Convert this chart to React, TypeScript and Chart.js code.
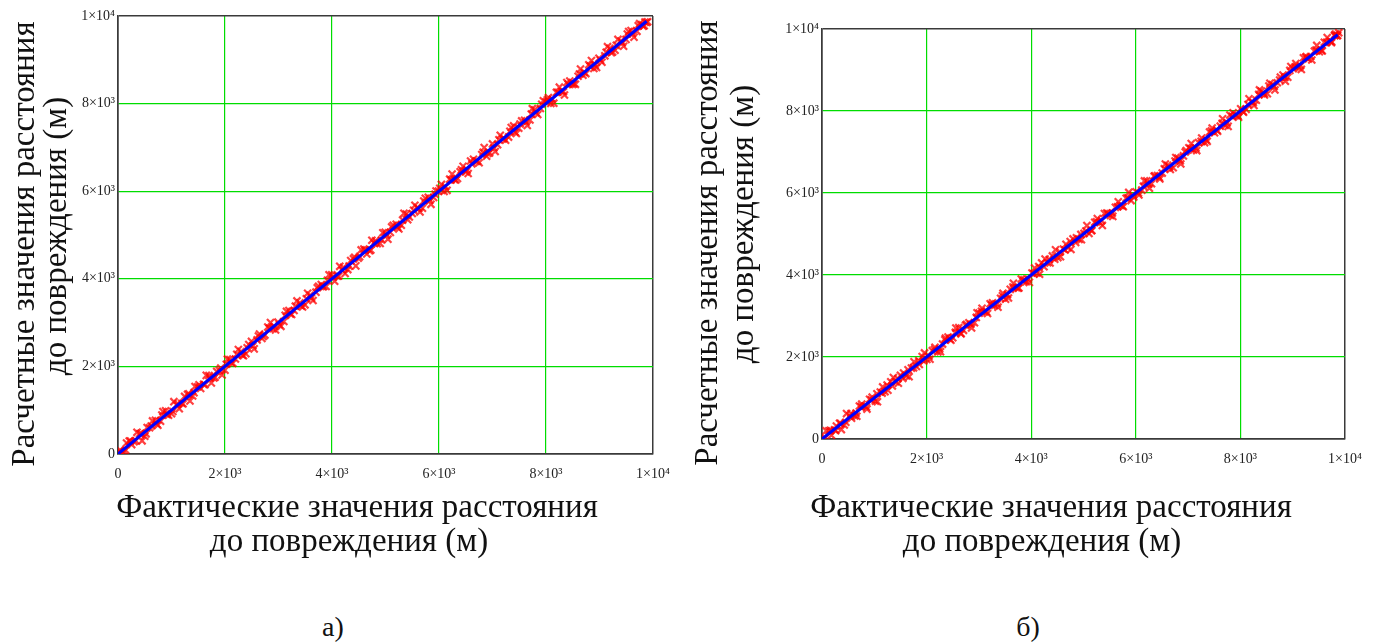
import React, { useEffect, useRef } from 'react';
import { Chart, registerables } from 'chart.js';

Chart.register(...registerables);

const tickValues = [0, 2000, 4000, 6000, 8000, 10000];
const tickLabels = ['0', '2×10³', '4×10³', '6×10³', '8×10³', '1×10⁴'];

const actualA = [
  20, 115, 210, 300, 405, 500, 590, 700, 795, 890,
  1000, 1095, 1190, 1300, 1395, 1490, 1600, 1700, 1790, 1895,
  2000, 2090, 2195, 2300, 2390, 2495, 2600, 2690, 2800, 2895,
  2990, 3100, 3195, 3290, 3400, 3495, 3590, 3700, 3800, 3890,
  3995, 4100, 4190, 4295, 4400, 4490, 4595, 4700, 4790, 4900,
  4995, 5090, 5200, 5295, 5390, 5500, 5595, 5690, 5800, 5900,
  5990, 6095, 6200, 6290, 6395, 6500, 6590, 6695, 6800, 6890,
  7000, 7095, 7190, 7300, 7395, 7490, 7600, 7700, 7790, 7895,
  8000, 8090, 8195, 8300, 8390, 8495, 8600, 8690, 8800, 8895,
  8990, 9100, 9195, 9290, 9400, 9495, 9590, 9700, 9790, 9880,
  65, 160, 255, 355, 450, 545, 645, 745, 840, 945,
  1045, 1145, 1245, 1345, 1440, 1545, 1650, 1745, 1845, 1945,
  2045, 2145, 2250, 2345, 2445, 2545, 2645, 2745, 2850, 2945,
  3045, 3150, 3245, 3345, 3450, 3545, 3645, 3750, 3845, 3945,
  4050, 4145, 4245, 4350, 4445, 4545, 4650, 4745, 4845, 4950,
  5045, 5145, 5250, 5345, 5445, 5550, 5645, 5745, 5850, 5945,
  6045, 6150, 6245, 6345, 6450, 6545, 6645, 6750, 6845, 6945,
  7050, 7145, 7245, 7350, 7445, 7545, 7650, 7745, 7845, 7950,
  8045, 8145, 8250, 8345, 8445, 8550, 8645, 8745, 8850, 8945,
  9045, 9150, 9245, 9345, 9450, 9545, 9645, 9750, 9835, 9900,
  45, 140, 235, 330, 430, 525, 620, 725, 820, 915,
  1025, 1120, 1215, 1325, 1420, 1515, 1625, 1720, 1815, 1920,
  2025, 2115, 2220, 2325, 2415, 2520, 2625, 2715, 2825, 2920,
  3015, 3125, 3220, 3315, 3425, 3520, 3615, 3725, 3825, 3915,
  4020, 4125, 4215, 4320, 4425, 4515, 4620, 4725, 4815, 4925,
  5020, 5115, 5225, 5320, 5415, 5525, 5620, 5715, 5825, 5925,
  6015, 6120, 6225, 6315, 6420, 6525, 6615, 6720, 6825, 6915,
  7025, 7120, 7215, 7325, 7420, 7515, 7625, 7725, 7815, 7920,
  8025, 8115, 8220, 8325, 8415, 8520, 8625, 8715, 8825, 8920,
  9020, 9125, 9220, 9315, 9425, 9520, 9615, 9725, 9815, 9850,
];
const estimatedA = [
  50, 55, 295, 280, 460, 405, 600, 770, 750, 985,
  920, 1120, 1160, 1360, 1325, 1535, 1590, 1790, 1735, 1910,
  1915, 2155, 2170, 2340, 2290, 2570, 2605, 2640, 2900, 2860,
  3010, 3025, 3275, 3275, 3450, 3405, 3625, 3695, 3870, 3825,
  4090, 4060, 4200, 4210, 4455, 4470, 4680, 4640, 4815, 4805,
  5060, 5060, 5245, 5225, 5480, 5490, 5625, 5610, 5860, 5855,
  6005, 5995, 6275, 6265, 6445, 6445, 6690, 6680, 6835, 6800,
  7080, 7060, 7195, 7235, 7490, 7440, 7620, 7625, 7860, 7890,
  8040, 8005, 8255, 8280, 8480, 8435, 8625, 8650, 8885, 8800,
  9035, 9090, 9260, 9220, 9430, 9465, 9670, 9650, 9805, 9855,
  15, 250, 215, 495, 300, 605, 755, 655, 970, 885,
  1195, 1035, 1315, 1210, 1540, 1495, 1795, 1620, 1885, 1805,
  2165, 2070, 2385, 2245, 2500, 2400, 2740, 2715, 3000, 2830,
  2915, 3255, 3185, 3495, 3355, 3670, 3505, 3830, 3825, 4090,
  3945, 4285, 4120, 4415, 4295, 4660, 4565, 4880, 4800, 5050,
  4905, 5220, 5140, 5495, 5410, 5680, 5525, 5840, 5700, 6005,
  6155, 6020, 6390, 6290, 6570, 6405, 6730, 6650, 6995, 6875,
  6905, 7275, 7165, 7455, 7320, 7605, 7500, 7885, 7750, 8065,
  8135, 8010, 8375, 8195, 8515, 8440, 8790, 8685, 8985, 8825,
  8945, 9300, 9180, 9465, 9310, 9645, 9515, 9825, 9780, 9870,
  80, 90, 295, 305, 475, 460, 640, 685, 890, 905,
  970, 1150, 1145, 1375, 1400, 1580, 1580, 1735, 1755, 1960,
  2050, 2080, 2275, 2255, 2425, 2470, 2695, 2685, 2870, 2905,
  2950, 3165, 3200, 3375, 3380, 3545, 3560, 3795, 3820, 3965,
  4035, 4065, 4260, 4290, 4490, 4505, 4655, 4655, 4870, 4885,
  4995, 5185, 5175, 5340, 5350, 5565, 5605, 5775, 5790, 5930,
  6065, 6100, 6255, 6255, 6490, 6480, 6625, 6690, 6890, 6860,
  6985, 7175, 7205, 7370, 7350, 7535, 7575, 7760, 7790, 7985,
  8085, 8100, 8260, 8270, 8440, 8455, 8675, 8710, 8855, 8875,
  8990, 9170, 9160, 9330, 9385, 9590, 9590, 9780, 9765, 9860,
];

const actualB = [
  35, 130, 240, 335, 425, 530, 625, 715, 820, 910,
  1020, 1115, 1205, 1315, 1410, 1500, 1615, 1710, 1805, 1915,
  2005, 2110, 2215, 2305, 2410, 2500, 2615, 2705, 2810, 2915,
  3005, 3110, 3215, 3300, 3415, 3510, 3600, 3715, 3810, 3905,
  4015, 4110, 4200, 4315, 4405, 4510, 4615, 4705, 4800, 4915,
  5010, 5105, 5215, 5310, 5400, 5515, 5610, 5705, 5815, 5910,
  6005, 6115, 6210, 6300, 6415, 6505, 6610, 6715, 6805, 6910,
  7015, 7105, 7200, 7315, 7410, 7505, 7615, 7710, 7800, 7915,
  8005, 8110, 8215, 8305, 8400, 8515, 8610, 8705, 8815, 8905,
  9010, 9115, 9205, 9300, 9415, 9510, 9605, 9715, 9805, 9860,
  80, 180, 275, 370, 470, 565, 665, 760, 860, 960,
  1060, 1160, 1260, 1365, 1460, 1560, 1665, 1760, 1860, 1960,
  2065, 2160, 2265, 2360, 2465, 2560, 2660, 2765, 2860, 2965,
  3060, 3165, 3260, 3365, 3460, 3565, 3660, 3765, 3860, 3965,
  4065, 4160, 4265, 4360, 4465, 4560, 4665, 4760, 4865, 4960,
  5065, 5160, 5265, 5360, 5465, 5560, 5665, 5760, 5865, 5960,
  6060, 6165, 6260, 6365, 6460, 6565, 6660, 6765, 6860, 6965,
  7060, 7165, 7260, 7365, 7460, 7565, 7660, 7765, 7860, 7965,
  8060, 8165, 8260, 8365, 8460, 8565, 8660, 8765, 8860, 8965,
  9060, 9165, 9260, 9365, 9460, 9565, 9660, 9740, 9820, 9880,
  60, 160, 260, 355, 455, 555, 650, 750, 850, 945,
  1050, 1150, 1245, 1345, 1450, 1545, 1645, 1750, 1850, 1945,
  2045, 2150, 2250, 2350, 2445, 2550, 2650, 2745, 2845, 2950,
  3050, 3145, 3245, 3350, 3450, 3545, 3650, 3750, 3845, 3945,
  4050, 4145, 4245, 4345, 4450, 4550, 4645, 4745, 4850, 4950,
  5045, 5150, 5250, 5345, 5445, 5550, 5650, 5745, 5845, 5950,
  6050, 6145, 6245, 6350, 6450, 6545, 6645, 6750, 6850, 6945,
  7045, 7150, 7250, 7345, 7445, 7550, 7650, 7745, 7845, 7950,
  8050, 8145, 8245, 8350, 8450, 8545, 8645, 8750, 8850, 8945,
  9045, 9150, 9250, 9345, 9445, 9550, 9650, 9745, 9800, 9845,
];
const estimatedB = [
  5, 200, 225, 385, 340, 565, 565, 805, 800, 970,
  925, 1145, 1155, 1395, 1400, 1555, 1540, 1730, 1770, 2010,
  1940, 2155, 2125, 2315, 2485, 2470, 2715, 2650, 2835, 2835,
  3070, 3105, 3300, 3255, 3430, 3410, 3650, 3690, 3900, 3835,
  4050, 4050, 4295, 4300, 4465, 4425, 4635, 4665, 4880, 4865,
  5015, 5015, 5285, 5280, 5500, 5450, 5650, 5695, 5870, 5815,
  6030, 6070, 6295, 6225, 6425, 6485, 6675, 6615, 6850, 6905,
  7105, 7050, 7230, 7230, 7485, 7470, 7630, 7650, 7900, 7890,
  8055, 8040, 8220, 8265, 8485, 8420, 8645, 8690, 8875, 8825,
  9030, 9065, 9300, 9270, 9460, 9445, 9675, 9705, 9835, 9840,
  200, 90, 315, 230, 620, 505, 555, 850, 730, 1020,
  910, 1270, 1190, 1500, 1360, 1610, 1520, 1885, 1820, 2100,
  1945, 2235, 2130, 2460, 2410, 2705, 2565, 2795, 2710, 3080,
  3190, 3060, 3320, 3215, 3555, 3440, 3800, 3685, 3880, 3820,
  4170, 4020, 4390, 4295, 4615, 4445, 4750, 4625, 4910, 4860,
  5205, 5085, 5375, 5210, 5500, 5430, 5785, 5665, 6015, 5900,
  5950, 6295, 6115, 6420, 6340, 6705, 6575, 6865, 6710, 7035,
  7205, 7035, 7340, 7260, 7585, 7505, 7810, 7625, 7955, 7850,
  7970, 8300, 8135, 8515, 8390, 8675, 8515, 8825, 8725, 9085,
  9160, 9015, 9325, 9245, 9600, 9465, 9790, 9665, 9875, 9910,
  25, 210, 200, 380, 410, 620, 630, 790, 780, 955,
  1105, 1120, 1315, 1295, 1470, 1480, 1690, 1735, 1910, 1905,
  2020, 2185, 2195, 2420, 2435, 2600, 2580, 2775, 2800, 2965,
  3115, 3105, 3265, 3290, 3495, 3520, 3705, 3680, 3850, 3895,
  4035, 4205, 4200, 4375, 4385, 4560, 4610, 4815, 4795, 4990,
  5070, 5080, 5300, 5325, 5510, 5510, 5665, 5685, 5880, 5945,
  6000, 6165, 6215, 6410, 6380, 6590, 6635, 6780, 6785, 7000,
  7085, 7095, 7260, 7300, 7515, 7530, 7700, 7710, 7870, 7885,
  7990, 8160, 8205, 8405, 8425, 8610, 8595, 8755, 8820, 8990,
  9075, 9105, 9310, 9330, 9485, 9480, 9675, 9690, 9850, 9835,
];

const fitXA = [0, 9880];
const fitYA = [0, 9880];
const fitXB = [0, 9860];
const fitYB = [0, 9860];

const xTitle = ['Фактические значения расстояния', 'до повреждения (м)'];
const yTitle = ['Расчетные значения расстояния', 'до повреждения (м)'];
const captions = ['а)', 'б)'];

const SERIF = "'Liberation Serif', 'DejaVu Serif', 'Noto Serif', serif";
const EDGE = '#3a3a3a';
const GRID = '#00dd00';

function makeAxis(pos: 'left' | 'bottom') {
  const edge = (c: any) => c.tick && (c.tick.value === 0 || c.tick.value === 10000);
  return {
    type: 'linear',
    position: pos,
    min: 0,
    max: 10000,
    afterBuildTicks: (s: any) => {
      s.ticks = tickValues.map((v) => ({ value: v }));
    },
    afterFit: (s: any) => {
      if (pos === 'left') s.width = 60;
      else s.height = 30;
    },
    ticks: {
      callback: (v: any) => {
        const i = tickValues.indexOf(Number(v));
        return i >= 0 ? tickLabels[i] : '';
      },
      font: { family: SERIF, size: 14 },
      color: '#222',
      padding: pos === 'left' ? 3 : 12,
      maxRotation: 0,
      minRotation: 0,
      autoSkip: false,
    },
    grid: {
      drawTicks: false,
      color: (c: any) => (edge(c) ? EDGE : GRID),
      lineWidth: (c: any) => (edge(c) ? 1.5 : 1.2),
    },
    border: { display: true, color: EDGE, width: 1.5 },
  };
}

type PanelProps = {
  actual: number[];
  estimated: number[];
  fitX: number[];
  fitY: number[];
  left: number;
  width: number;
  height: number;
  padding: { left: number; right: number; top: number; bottom: number };
};

function Panel(p: PanelProps) {
  const ref = useRef<HTMLCanvasElement | null>(null);
  useEffect(() => {
    if (!ref.current) return;
    const chart = new Chart(ref.current, {
      type: 'scatter',
      data: {
        datasets: [
          {
            label: 'fit',
            data: p.fitX.map((x, i) => ({ x, y: p.fitY[i] })),
            showLine: true,
            borderColor: '#0000ff',
            borderWidth: 3,
            pointRadius: 0,
            fill: false,
          },
          {
            label: 'points',
            data: p.actual.map((x, i) => ({ x, y: p.estimated[i] })),
            pointStyle: 'crossRot',
            pointRadius: 5,
            pointBorderWidth: 2.2,
            borderColor: 'rgba(255,0,0,0.75)',
            backgroundColor: 'rgba(255,0,0,0.75)',
            showLine: false,
          },
        ],
      },
      options: {
        responsive: false,
        animation: false,
        events: [],
        layout: { padding: p.padding },
        plugins: { legend: { display: false }, tooltip: { enabled: false } },
        scales: { x: makeAxis('bottom') as any, y: makeAxis('left') as any },
      },
    });
    return () => chart.destroy();
  }, []);
  return (
    <canvas
      ref={ref}
      width={p.width}
      height={p.height}
      style={{ position: 'absolute', left: p.left, top: 0, width: p.width, height: p.height }}
    />
  );
}

function Text(props: { text: string; cx: number; cy: number; size: number; rotate?: boolean }) {
  return (
    <div
      style={{
        position: 'absolute',
        left: props.cx,
        top: props.cy,
        transform: `translate(-50%, -50%)${props.rotate ? ' rotate(-90deg)' : ''}`,
        fontFamily: SERIF,
        fontSize: props.size,
        lineHeight: 1,
        whiteSpace: 'nowrap',
        color: '#111',
      }}
    >
      {props.text}
    </div>
  );
}

export default function App() {
  return (
    <div
      style={{
        position: 'absolute',
        left: 0,
        top: 0,
        width: 1377,
        height: 642,
        background: '#fff',
        overflow: 'hidden',
      }}
    >
      <Panel
        actual={actualA}
        estimated={estimatedA}
        fitX={fitXA}
        fitY={fitYA}
        left={0}
        width={690}
        height={490}
        padding={{ left: 58, right: 37, top: 16, bottom: 6 }}
      />
      <Panel
        actual={actualB}
        estimated={estimatedB}
        fitX={fitXB}
        fitY={fitYB}
        left={700}
        width={677}
        height={490}
        padding={{ left: 62, right: 32, top: 29, bottom: 21 }}
      />
      <Text text={xTitle[0]} cx={357} cy={506} size={33} />
      <Text text={xTitle[1]} cx={349} cy={540} size={33} />
      <Text text={xTitle[0]} cx={1051} cy={506} size={33} />
      <Text text={xTitle[1]} cx={1042} cy={540} size={33} />
      <Text text={yTitle[0]} cx={23} cy={244} size={33} rotate />
      <Text text={yTitle[1]} cx={55} cy={236} size={33} rotate />
      <Text text={yTitle[0]} cx={706} cy={243} size={33} rotate />
      <Text text={yTitle[1]} cx={742} cy={224} size={33} rotate />
      <Text text={captions[0]} cx={333} cy={627} size={28} />
      <Text text={captions[1]} cx={1028} cy={627} size={28} />
    </div>
  );
}
